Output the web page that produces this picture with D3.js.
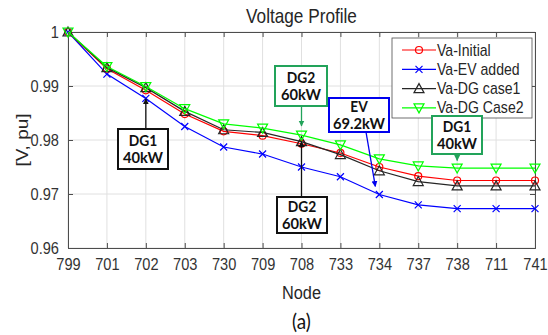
<!DOCTYPE html>
<html>
<head>
<meta charset="utf-8">
<script src="https://cdn.jsdelivr.net/npm/d3@7"></script>
<style>
  body { margin: 0; background: #fff; }
  svg { display: block; }
  .axis text { font-family: "Liberation Sans", Arial, sans-serif; font-size: 17px; fill: #333; }
  .axis path, .axis line { stroke: #4d4d4d; }
  .grid line { stroke: #e0e0e0; stroke-width: 1; }
  .note text { font-family: Lato, "Open Sans", sans-serif; font-weight: bold; font-size: 16px; fill: #111; }
</style>
</head>
<body>
<div id="chart"></div>
<script>
// node labels along the feeder
var nodes = ["799", "701", "702", "703", "730", "709", "708", "733", "734", "737", "738", "711", "741"];

// voltages (pu)
var vInitial = [1.0, 0.9932, 0.9892, 0.9848, 0.9816, 0.9808, 0.9793, 0.9776, 0.9750, 0.9733, 0.9725, 0.9725, 0.9725];
var vEV      = [1.0, 0.9922, 0.9877, 0.9825, 0.9787, 0.9774, 0.9750, 0.9732, 0.9699, 0.9680, 0.9673, 0.9673, 0.9673];
var vCase1   = [1.0, 0.9934, 0.9897, 0.9853, 0.9819, 0.9814, 0.9797, 0.9773, 0.9743, 0.9723, 0.9715, 0.9715, 0.9715];
var vCase2   = [1.0, 0.9936, 0.9899, 0.9858, 0.9830, 0.9822, 0.9809, 0.9791, 0.9765, 0.9752, 0.9748, 0.9748, 0.9748];

var yTicks = [0.96, 0.97, 0.98, 0.99, 1];
var yTickLabels = ["0.96", "0.97", "0.98", "0.99", "1"];

var seriesNames = ["Va-Initial", "Va-EV added", "Va-DG case1", "Va-DG Case2"];
var seriesColors = ["#ff0000", "#0000ff", "#262626", "#00ff00"];
var seriesMarkers = ["circle", "cross", "up", "down"];
var seriesValues = [vInitial, vEV, vCase1, vCase2];

// annotations: label lines, node, colour, box centre (px), arrow end value
var notes = [
  {lines: ["DG1", "40kW"], node: "702", color: "#111111", bx: 143, by: 149, w: 50, h: 40, dir: "up", tip: 0.9876},
  {lines: ["DG2", "60kW"], node: "708", color: "#22a35a", bx: 301, by: 86, w: 52, h: 40, dir: "down", tip: 0.9826},
  {lines: ["EV", "69.2kW"], node: "734", color: "#0000ee", bx: 359, by: 115, w: 60, h: 34, dir: "diag", tip: 0.9714},
  {lines: ["DG2", "60kW"], node: "708", color: "#111111", bx: 302, by: 215, w: 50, h: 36, dir: "up", tip: 0.9797},
  {lines: ["DG1", "40kW"], node: "738", color: "#22a35a", bx: 457, by: 135, w: 50, h: 38, dir: "down", tip: 0.9762}
];

var width = 548, height = 335;
var margin = {left: 68, right: 13, top: 32, bottom: 87};
var squash = 0.86; // the source picture is a little narrow horizontally

var svg = d3.select("#chart").append("svg")
  .attr("width", width)
  .attr("height", height);

var x = d3.scalePoint().domain(nodes).range([margin.left, width - margin.right]);
var y = d3.scaleLinear().domain([0.96, 1]).range([height - margin.bottom, margin.top]);

// helper for narrow text
function label(txt, cx, cy, size, family, weight, anchor, rot) {
  var t = svg.append("text")
    .attr("transform", "translate(" + cx + "," + cy + ") scale(" + squash + ",1)" + (rot ? " rotate(" + rot + ")" : ""))
    .attr("text-anchor", anchor || "middle")
    .style("font-family", family)
    .style("font-size", size + "px")
    .attr("fill", "#262626")
    .text(txt);
  if (weight) t.style("font-weight", weight);
  return t;
}

// grid
var grid = svg.append("g").attr("class", "grid");
grid.selectAll(".gx").data(nodes).enter().append("line")
  .attr("x1", function(d) { return x(d); }).attr("x2", function(d) { return x(d); })
  .attr("y1", margin.top).attr("y2", height - margin.bottom);
grid.selectAll(".gy").data(yTicks).enter().append("line")
  .attr("x1", margin.left).attr("x2", width - margin.right)
  .attr("y1", function(d) { return y(d); }).attr("y2", function(d) { return y(d); });

// axes (matlab box with ticks on all sides)
var xAxis = d3.axisBottom(x).tickSize(-5).tickPadding(10);
var yAxis = d3.axisLeft(y).tickValues(yTicks).tickSize(-5).tickPadding(10.5)
  .tickFormat(function(d, i) { return yTickLabels[i]; });

svg.append("g").attr("class", "axis")
  .attr("transform", "translate(0," + (height - margin.bottom) + ")")
  .call(xAxis);
svg.append("g").attr("class", "axis")
  .attr("transform", "translate(" + margin.left + ",0)")
  .call(yAxis);
svg.append("g").attr("class", "axis")
  .attr("transform", "translate(0," + margin.top + ")")
  .call(d3.axisTop(x).tickSize(-5).tickFormat(""));
svg.append("g").attr("class", "axis")
  .attr("transform", "translate(" + (width - margin.right) + ",0)")
  .call(d3.axisRight(y).tickValues(yTicks).tickSize(-5).tickFormat(""));
svg.selectAll(".axis .domain").attr("stroke", "#4d4d4d");
svg.selectAll(".axis text").attr("transform", "scale(" + squash + ",1)");

// marker drawing
function drawMarker(g, type, color, cx, cy) {
  if (type == "circle") {
    g.append("circle").attr("cx", cx).attr("cy", cy).attr("r", 3.5)
      .attr("fill", "none").attr("stroke", color).attr("stroke-width", 1.2);
  } else if (type == "cross") {
    g.append("path").attr("d", "M" + (cx - 3.5) + "," + (cy - 3.5) + "L" + (cx + 3.5) + "," + (cy + 3.5) +
      "M" + (cx - 3.5) + "," + (cy + 3.5) + "L" + (cx + 3.5) + "," + (cy - 3.5))
      .attr("stroke", color).attr("stroke-width", 1.2);
  } else if (type == "up") {
    g.append("path").attr("d", "M" + cx + "," + (cy - 5) + "L" + (cx + 5) + "," + (cy + 4) + "L" + (cx - 5) + "," + (cy + 4) + "Z")
      .attr("fill", "none").attr("stroke", color).attr("stroke-width", 1.2);
  } else {
    g.append("path").attr("d", "M" + cx + "," + (cy + 5) + "L" + (cx + 5) + "," + (cy - 4) + "L" + (cx - 5) + "," + (cy - 4) + "Z")
      .attr("fill", "none").attr("stroke", color).attr("stroke-width", 1.2);
  }
}

var line = d3.line()
  .x(function(d, i) { return x(nodes[i]); })
  .y(function(d) { return y(d); });

// draw in order: blue, red, black, green on top
[1, 0, 2, 3].forEach(function(s) {
  var g = svg.append("g");
  g.append("path").datum(seriesValues[s])
    .attr("d", line)
    .attr("fill", "none")
    .attr("stroke", seriesColors[s])
    .attr("stroke-width", 1.2);
  seriesValues[s].forEach(function(v, i) {
    drawMarker(g, seriesMarkers[s], seriesColors[s], x(nodes[i]), y(v));
  });
});

// legend
var leg = svg.append("g").attr("class", "legend");
leg.append("rect")
  .attr("x", 392).attr("y", 38).attr("width", 140).attr("height", 80)
  .attr("fill", "#fff").attr("stroke", "#4d4d4d").attr("stroke-width", 0.8);
seriesNames.forEach(function(name, i) {
  var ly = 50 + i * 19.3;
  leg.append("line").attr("x1", 402).attr("x2", 436).attr("y1", ly).attr("y2", ly)
    .attr("stroke", seriesColors[i]).attr("stroke-width", 1.2);
  drawMarker(leg, seriesMarkers[i], seriesColors[i], 419, ly);
  leg.append("text")
    .attr("transform", "translate(437," + (ly + 5.5) + ") scale(0.88,1)")
    .style("font-family", "'Liberation Sans', Arial, sans-serif")
    .style("font-size", "16px").attr("fill", "#262626")
    .text(name);
});

// annotations
var defs = svg.append("defs");
notes.forEach(function(n, k) {
  defs.append("marker")
    .attr("id", "arrow" + k)
    .attr("viewBox", "0 0 10 10")
    .attr("refX", 9).attr("refY", 5)
    .attr("markerWidth", 6).attr("markerHeight", 8)
    .attr("markerUnits", "userSpaceOnUse")
    .attr("orient", "auto")
    .append("path").attr("d", "M0,0L10,5L0,10Z").attr("fill", n.color);

  var g = svg.append("g").attr("class", "note");
  var px = x(n.node);
  var x1, y1, x2, y2;
  if (n.dir == "up") {
    x1 = px; y1 = n.by - n.h / 2; x2 = px; y2 = y(n.tip);
  } else if (n.dir == "down") {
    x1 = px; y1 = n.by + n.h / 2; x2 = px; y2 = y(n.tip);
  } else {
    x1 = n.bx + 7; y1 = n.by + n.h / 2; x2 = x(n.node) - 4; y2 = y(n.tip);
  }
  g.append("line")
    .attr("x1", x1).attr("y1", y1).attr("x2", x2).attr("y2", y2)
    .attr("stroke", n.color).attr("stroke-width", 1.3)
    .attr("marker-end", "url(#arrow" + k + ")");
  g.append("rect")
    .attr("x", n.bx - n.w / 2).attr("y", n.by - n.h / 2)
    .attr("width", n.w).attr("height", n.h)
    .attr("fill", "#fff").attr("stroke", n.color).attr("stroke-width", 2);
  g.append("text").attr("transform", "translate(" + n.bx + "," + (n.by - 3) + ") scale(0.92,1)")
    .style("font-size", "15px")
    .attr("text-anchor", "middle").text(n.lines[0]);
  g.append("text").attr("transform", "translate(" + n.bx + "," + (n.by + 14) + ") scale(0.92,1)")
    .attr("text-anchor", "middle").text(n.lines[1]);
});

// title and axis labels
var sans = "'Liberation Sans', Arial, sans-serif";
label("Voltage Profile", 301.5, 23, 20, sans);
label("Node", 301.5, 299, 19, sans);
label("[V, pu]", 28, y(0.98), 19, sans, null, "middle", -90);

svg.append("text")
  .attr("transform", "translate(301.5,329) scale(0.9,1)")
  .attr("text-anchor", "middle")
  .style("font-family", "Lato, 'Open Sans', sans-serif")
  .style("font-size", "21px").attr("fill", "#111")
  .text("(a)");
</script>
</body>
</html>
